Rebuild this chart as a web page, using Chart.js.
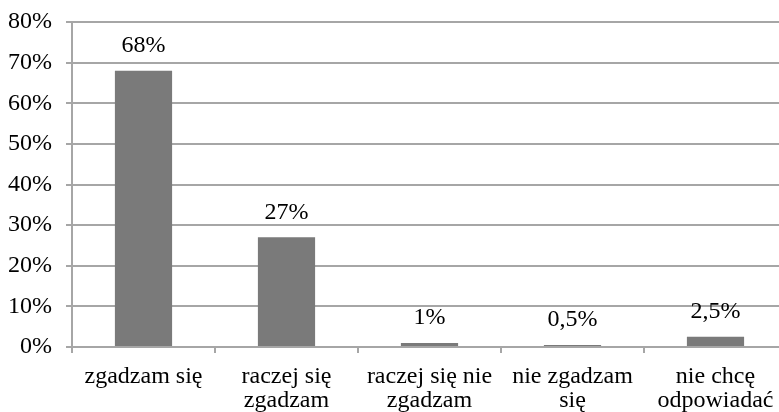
<!DOCTYPE html>
<html>
<head>
<meta charset="utf-8">
<script src="https://cdn.jsdelivr.net/npm/chart.js@4"></script>
<style>
  html, body { margin: 0; padding: 0; background: #fff; }
  #wrap { width: 779px; height: 412px; overflow: hidden; position: relative; }
  #chart { position: absolute; left: 0; top: 0; }
</style>
</head>
<body>
<div id="wrap">
  <canvas id="chart" width="790" height="412"></canvas>
</div>
<script>
// categories and values (percent)
const categories = [
    ['zgadzam się'],
    ['raczej się', 'zgadzam'],
    ['raczej się nie', 'zgadzam'],
    ['nie zgadzam', 'się'],
    ['nie chcę', 'odpowiadać']
];
const values = [68, 27, 1, 0.5, 2.5];
const valueLabels = ['68%', '27%', '1%', '0,5%', '2,5%'];

const FONT = "'Liberation Serif', 'Times New Roman', serif";
const GRID = '#a6a6a6';

// draw value labels above bars
const barLabels = {
    id: 'barLabels',
    afterDatasetsDraw(chart) {
        const c = chart.ctx;
        const meta = chart.getDatasetMeta(0);
        c.save();
        c.font = '24px ' + FONT;
        c.fillStyle = '#000';
        c.textAlign = 'center';
        c.textBaseline = 'bottom';
        meta.data.forEach((bar, i) => {
            c.fillText(valueLabels[i], bar.x, bar.y - 13);
        });
        c.restore();
    }
};

new Chart(document.getElementById('chart'), {
    type: 'bar',
    data: {
        labels: categories,
        datasets: [{
            data: values,
            backgroundColor: '#7a7a7a',
            borderWidth: 0,
            categoryPercentage: 0.4,
            barPercentage: 1.0
        }]
    },
    options: {
        responsive: false,
        animation: false,
        layout: { padding: { top: 22, right: 3, left: 0, bottom: 0 } },
        plugins: {
            legend: { display: false },
            tooltip: { enabled: false }
        },
        scales: {
            x: {
                offset: true,
                grid: {
                    offset: true,
                    drawOnChartArea: false,
                    color: GRID,
                    lineWidth: 2,
                    tickLength: 6
                },
                border: { color: GRID, width: 2 },
                ticks: {
                    color: '#000',
                    font: { family: FONT, size: 24, lineHeight: 1.0 },
                    padding: 12,
                    maxRotation: 0,
                    autoSkip: false
                },
                afterFit(scale) {
                    scale.height = 65;
                    scale.paddingLeft = 0;
                    scale.paddingRight = 0;
                }
            },
            y: {
                min: 0,
                max: 80,
                ticks: {
                    stepSize: 10,
                    color: '#000',
                    font: { family: FONT, size: 24 },
                    padding: 14,
                    callback: v => v + '%'
                },
                grid: {
                    color: GRID,
                    lineWidth: 2,
                    tickLength: 6
                },
                border: { color: GRID, width: 2 },
                afterFit(scale) {
                    scale.width = 72;
                    scale.paddingTop = 0;
                    scale.paddingBottom = 0;
                }
            }
        }
    },
    plugins: [barLabels]
});
</script>
</body>
</html>
